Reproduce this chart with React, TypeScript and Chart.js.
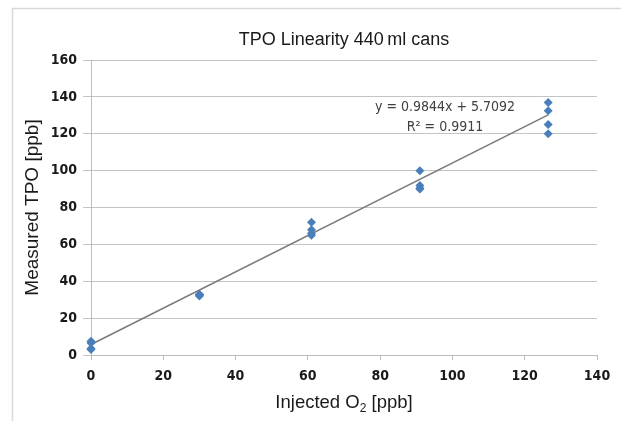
import React, { useEffect, useRef } from "react";
import { Chart, registerables } from "chart.js";

Chart.register(...registerables);

const CHART_TITLE = "TPO Linearity 440\u2009ml cans";
const X_TITLE_MAIN = "Injected O";
const X_TITLE_SUB = "2";
const X_TITLE_END = " [ppb]";
const Y_TITLE = "Measured TPO [ppb]";

const INJECTED = [0, 30, 61, 91, 126.5];
const MEASURED_AT_0 = [7.5, 6.5, 3.5, 3];
const MEASURED_AT_30 = [33, 32.5, 32.5, 32];
const MEASURED_AT_61 = [72, 68, 66, 65];
const MEASURED_AT_91 = [100, 92, 90.5, 90];
const MEASURED_AT_126 = [137, 132.5, 125, 120];
const MEASURED_GROUPS = [MEASURED_AT_0, MEASURED_AT_30, MEASURED_AT_61, MEASURED_AT_91, MEASURED_AT_126];

const TREND_SLOPE = 0.9844;
const TREND_INTERCEPT = 5.7092;
const TREND_R2 = 0.9911;
const TREND_X_RANGE = [0, 126.5];

const X_MIN = 0, X_MAX = 140, X_STEP = 20;
const Y_MIN = 0, Y_MAX = 160, Y_STEP = 20;

const BLUE = "#4a7ebb";
const GRID = "#c4c4c4";
const AXIS = "#bdbdbd";

export default function App() {
  const ref = useRef<HTMLCanvasElement | null>(null);
  useEffect(() => {
    const canvas = ref.current!;
    const points: { x: number; y: number }[] = [];
    INJECTED.forEach((x, i) => MEASURED_GROUPS[i].forEach((y) => points.push({ x, y })));
    const trend = TREND_X_RANGE.map((x) => ({ x, y: TREND_SLOPE * x + TREND_INTERCEPT }));

    const decor = {
      id: "decor",
      beforeDraw(chart: any) {
        const c = chart.ctx;
        c.save();
        c.strokeStyle = "#d9d9d9";
        c.lineWidth = 1.5;
        c.beginPath();
        c.moveTo(12.5, 421);
        c.lineTo(12.5, 8.5);
        c.lineTo(621, 8.5);
        c.stroke();
        c.restore();
      },
      afterDraw(chart: any) {
        const c = chart.ctx;
        const a = chart.chartArea;
        const cx = (a.left + a.right) / 2;
        c.save();
        c.fillStyle = "#1a1a1a";
        c.textBaseline = "middle";
        c.textAlign = "center";
        c.font = "18px 'Liberation Sans', Arial, sans-serif";
        c.fillText(CHART_TITLE, cx, 40);

        // x title with subscript
        const mainFont = "18.5px 'Liberation Sans', Arial, sans-serif";
        const subFont = "12px 'Liberation Sans', Arial, sans-serif";
        c.font = mainFont;
        const w1 = c.measureText(X_TITLE_MAIN).width;
        const w3 = c.measureText(X_TITLE_END).width;
        c.font = subFont;
        const w2 = c.measureText(X_TITLE_SUB).width;
        const total = w1 + w2 + w3;
        const x0 = cx - total / 2;
        c.textAlign = "left";
        c.font = mainFont;
        c.fillText(X_TITLE_MAIN, x0, 403);
        c.font = subFont;
        c.fillText(X_TITLE_SUB, x0 + w1, 409);
        c.font = mainFont;
        c.fillText(X_TITLE_END, x0 + w1 + w2, 403);

        // y title
        c.save();
        c.translate(33, (a.top + a.bottom) / 2);
        c.rotate(-Math.PI / 2);
        c.textAlign = "center";
        c.font = "19px 'Liberation Sans', Arial, sans-serif";
        c.fillText(Y_TITLE, 0, 0);
        c.restore();

        // trendline equation
        c.fillStyle = "#404040";
        c.textAlign = "center";
        c.font = "14px 'DejaVu Sans Condensed', 'Liberation Sans Narrow', sans-serif";
        c.fillText(`y = ${TREND_SLOPE}x + ${TREND_INTERCEPT}`, 445, 107);
        c.fillText(`R\u00b2 = ${TREND_R2}`, 445, 127);
        c.restore();
      },
    };

    const tickFont = { family: "'DejaVu Sans Condensed', 'DejaVu Sans', sans-serif", size: 14, weight: "bold" as const };

    const chart = new Chart(canvas, {
      type: "scatter",
      data: {
        datasets: [
          {
            type: "line",
            data: trend,
            borderColor: "#7a7a7a",
            borderWidth: 1.5,
            pointRadius: 0,
            fill: false,
            clip: false as any,
            order: 2,
          } as any,
          {
            data: points,
            pointStyle: "rectRot",
            pointRadius: 4.5,
            backgroundColor: BLUE,
            borderColor: BLUE,
            borderWidth: 0,
            clip: false as any,
            order: 1,
          },
        ],
      },
      plugins: [decor],
      options: {
        responsive: false,
        animation: false,
        devicePixelRatio: 1,
        layout: { padding: { top: 60, right: 24, left: 0, bottom: 0 } },
        plugins: { legend: { display: false }, tooltip: { enabled: false } },
        scales: {
          x: {
            type: "linear",
            min: X_MIN,
            max: X_MAX,
            afterFit: (s: any) => { s.height = 66; },
            ticks: { stepSize: X_STEP, font: tickFont, color: "#1a1a1a", padding: 8, maxRotation: 0 },
            grid: { drawOnChartArea: false, drawTicks: true, tickLength: 5, color: AXIS },
            border: { display: true, color: AXIS, width: 1 },
          },
          y: {
            type: "linear",
            min: Y_MIN,
            max: Y_MAX,
            afterFit: (s: any) => { s.width = 91; },
            ticks: { stepSize: Y_STEP, font: tickFont, color: "#1a1a1a", padding: 6 },
            grid: { color: GRID, tickLength: 8, lineWidth: 1 },
            border: { display: true, color: AXIS, width: 1 },
          },
        },
      },
    });
    return () => chart.destroy();
  }, []);
  return (
    <canvas
      ref={ref}
      width={621}
      height={421}
      style={{ position: "fixed", left: 0, top: 0, width: 621, height: 421, background: "#fff" }}
    />
  );
}
